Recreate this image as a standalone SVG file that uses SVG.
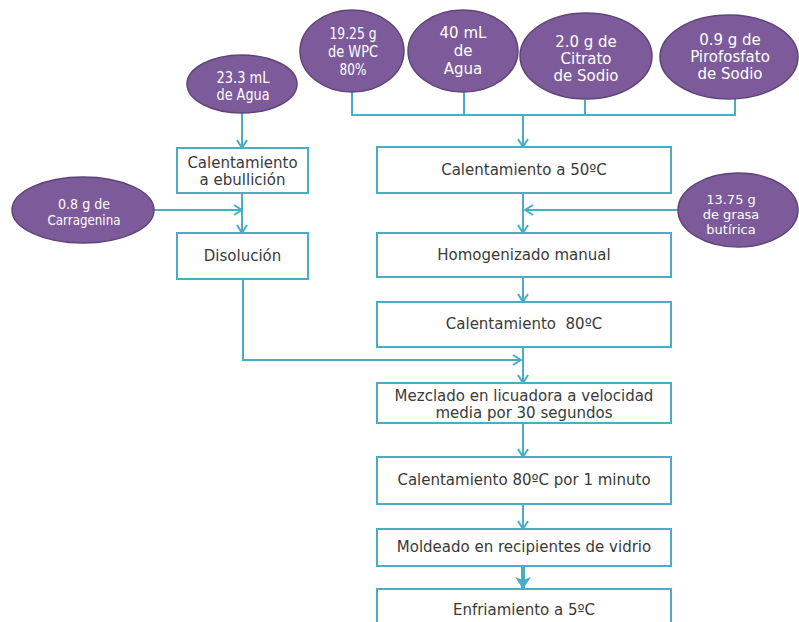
<svg xmlns="http://www.w3.org/2000/svg" width="799" height="622" viewBox="0 0 799 622">
<style>
.ell{fill:#7D5A99;stroke:#5E4578;stroke-width:1.5}
.et{font-family:"DejaVu Sans","Liberation Sans",sans-serif;font-size:15px;fill:#ffffff;text-anchor:middle}
.box{fill:#ffffff;stroke:#4BACC6;stroke-width:2}
.bt{font-family:"DejaVu Sans","Liberation Sans",sans-serif;font-size:15px;fill:#3a3a3a;text-anchor:middle;white-space:pre}
.ln{fill:none;stroke:#4BACC6;stroke-width:2}
.ar{fill:none;stroke:#4BACC6;stroke-width:2;marker-end:url(#arr)}
</style>
<defs>
<marker id="arr" viewBox="0 0 12 12" refX="11" refY="6" markerWidth="12" markerHeight="12" orient="auto" markerUnits="userSpaceOnUse">
<path d="M3,1 L11,6 L3,11" fill="none" stroke="#4BACC6" stroke-width="2"/>
</marker>
<marker id="arrT" viewBox="0 0 14 16" refX="13" refY="8" markerWidth="14" markerHeight="16" orient="auto" markerUnits="userSpaceOnUse">
<path d="M1,0 L13,8 L1,16 L4,8 Z" fill="#4BACC6"/>
</marker>
</defs>
<rect width="799" height="622" fill="#ffffff"/>

<g id="connectors">
<path class="ln" d="M352,92 V115 H735 V98"/>
<path class="ln" d="M464,91 V115"/>
<path class="ln" d="M585,100 V115"/>
<path class="ar" d="M523,115 V147"/>
<path class="ar" d="M242,113 V148"/>
<path class="ar" d="M154,210 H242"/>
<path class="ar" d="M242,193 V233"/>
<path class="ar" d="M678,210 H525"/>
<path class="ar" d="M523,193 V233"/>
<path class="ar" d="M523,277 V302"/>
<path class="ar" d="M523,347 V383"/>
<path class="ar" d="M243,279 V360 H521"/>
<path class="ar" d="M523,423 V457"/>
<path class="ar" d="M523,504 V529"/>
<path d="M523,566 V589" fill="none" stroke="#4BACC6" stroke-width="4" marker-end="url(#arrT)"/>
</g>

<g id="n-wpc">
<ellipse class="ell" cx="352" cy="51" rx="52" ry="41"/>
<text class="et"><tspan x="353" y="39" textLength="47" lengthAdjust="spacingAndGlyphs">19.25 g</tspan><tspan x="353" y="57" textLength="50" lengthAdjust="spacingAndGlyphs">de WPC</tspan><tspan x="353" y="75" textLength="27" lengthAdjust="spacingAndGlyphs">80%</tspan></text>
</g>
<g id="n-agua40">
<ellipse class="ell" cx="463" cy="51" rx="55" ry="41"/>
<text class="et"><tspan x="463" y="38">40 mL</tspan><tspan x="463" y="56">de</tspan><tspan x="463" y="74">Agua</tspan></text>
</g>
<g id="n-citrato">
<ellipse class="ell" cx="586" cy="56" rx="66" ry="43"/>
<text class="et"><tspan x="586" y="47">2.0 g de</tspan><tspan x="586" y="64">Citrato</tspan><tspan x="586" y="81">de Sodio</tspan></text>
</g>
<g id="n-pirofosfato">
<ellipse class="ell" cx="729" cy="57" rx="69" ry="42"/>
<text class="et"><tspan x="730" y="45">0.9 g de</tspan><tspan x="730" y="62">Pirofosfato</tspan><tspan x="730" y="79">de Sodio</tspan></text>
</g>
<g id="n-agua23">
<ellipse class="ell" cx="242" cy="84" rx="55" ry="29"/>
<text class="et"><tspan x="243" y="83" textLength="53" lengthAdjust="spacingAndGlyphs">23.3 mL</tspan><tspan x="243" y="100" textLength="53" lengthAdjust="spacingAndGlyphs">de Agua</tspan></text>
</g>
<g id="n-carragenina">
<ellipse class="ell" cx="83" cy="210" rx="71" ry="33"/>
<text class="et" style="font-size:14px"><tspan x="84" y="209" textLength="52" lengthAdjust="spacingAndGlyphs">0.8 g de</tspan><tspan x="84" y="225" textLength="73" lengthAdjust="spacingAndGlyphs">Carragenina</tspan></text>
</g>
<g id="n-grasa">
<ellipse class="ell" cx="738" cy="210" rx="60" ry="37"/>
<text class="et" style="font-size:13px"><tspan x="731" y="204">13.75 g</tspan><tspan x="731" y="219">de grasa</tspan><tspan x="731" y="234">butírica</tspan></text>
</g>

<g id="n-ebullicion">
<rect class="box" x="177" y="148" width="131" height="45"/>
<text class="bt"><tspan x="242.5" y="168">Calentamiento</tspan><tspan x="242.5" y="185">a ebullición</tspan></text>
</g>
<g id="n-disolucion">
<rect class="box" x="177" y="233" width="131" height="46"/>
<text class="bt" x="242.5" y="261">Disolución</text>
</g>
<g id="n-cal50">
<rect class="box" x="377" y="147" width="294" height="46"/>
<text class="bt" x="524" y="175">Calentamiento a 50ºC</text>
</g>
<g id="n-homog">
<rect class="box" x="377" y="233" width="294" height="44"/>
<text class="bt" x="524" y="260">Homogenizado manual</text>
</g>
<g id="n-cal80">
<rect class="box" x="377" y="302" width="294" height="45"/>
<text class="bt" x="524" y="329">Calentamiento  80ºC</text>
</g>
<g id="n-mezclado">
<rect class="box" x="377" y="383" width="294" height="40"/>
<text class="bt"><tspan x="524" y="401">Mezclado en licuadora a velocidad</tspan><tspan x="524" y="418">media por 30 segundos</tspan></text>
</g>
<g id="n-cal80min">
<rect class="box" x="377" y="457" width="294" height="47"/>
<text class="bt" x="524" y="485">Calentamiento 80ºC por 1 minuto</text>
</g>
<g id="n-moldeado">
<rect class="box" x="377" y="529" width="294" height="37"/>
<text class="bt" x="524" y="552">Moldeado en recipientes de vidrio</text>
</g>
<g id="n-enfriamiento">
<rect class="box" x="377" y="589" width="294" height="50"/>
<text class="bt" x="524" y="615">Enfriamiento a 5ºC</text>
</g>
</svg>
